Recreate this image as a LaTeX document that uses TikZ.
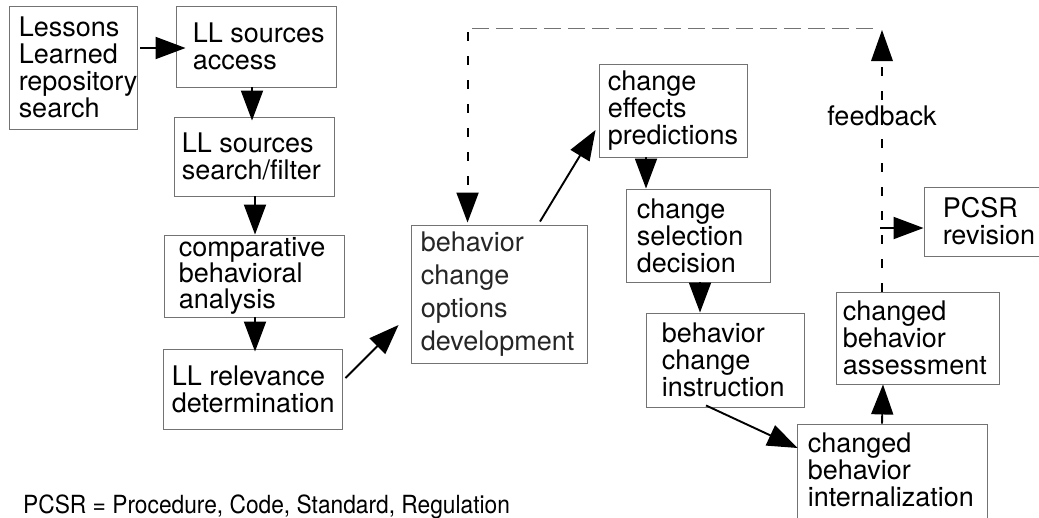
\documentclass[tikz,border=0pt]{standalone}
\usepackage{fontspec}
\usepackage{graphicx}
\setmainfont{TeX Gyre Heros}
\usetikzlibrary{arrows.meta,calc}
\tikzset{
  box/.style={draw=black!55, line width=0.9pt, inner sep=0pt, rectangle},
  txt/.style={anchor=west, inner sep=0pt, align=left, font=\fontsize{27pt}{27pt}\selectfont},
  lighttxt/.style={anchor=west, inner sep=0pt, align=left, text=black!85, font=\fontsize{27pt}{33pt}\selectfont},
  flow/.style={line width=1.9pt, -{Triangle[length=30pt,width=22pt]}},
  fb/.style={line width=1.9pt, dash pattern=on 9pt off 15pt},
  topline/.style={line width=0.9pt, draw=black!55, dash pattern=on 17pt off 7pt},
}
\begin{document}
\begin{tikzpicture}[x=1pt,y=-1pt]
\useasboundingbox (0,0) rectangle (1039,517);
\fill[white] (0,0) rectangle (1039,517);
\clip (0,0) rectangle (1039,517);

% boxes
\node[box, minimum width=128pt, minimum height=123pt] (a1) at (73,67.5) {};
\node[box, minimum width=160pt, minimum height=81pt] (a2) at (256,46.5) {};
\node[box, minimum width=160pt, minimum height=79pt] (a3) at (254,156.5) {};
\node[box, minimum width=180pt, minimum height=82pt] (a4) at (254,276) {};
\node[box, minimum width=179pt, minimum height=80pt] (a5) at (252.5,389) {};
\node[box, minimum width=176pt, minimum height=138pt] (a6) at (499,294) {};
\node[box, minimum width=148pt, minimum height=93pt] (a7) at (673,110.5) {};
\node[box, minimum width=144pt, minimum height=93pt] (a8) at (698,235.5) {};
\node[box, minimum width=158pt, minimum height=94pt] (a9) at (725,360) {};
\node[box, minimum width=190pt, minimum height=96pt] (a10) at (892,472) {};
\node[box, minimum width=163pt, minimum height=92pt] (a11) at (917.5,338) {};
\node[box, minimum width=121pt, minimum height=69pt] (a12) at (984.5,221.5) {};

% texts
\node[txt] (t1) at ($(a1.west)+(10,0)$) {Lessons\\Learned\\repository\\search};
\node[txt] (t2) at ($(a2.west)+(17,0)$) {LL sources\\access};
\node[txt] (t3) at ($(a3.west)+(8,0)$) {LL sources\\search/filter};
\node[txt, font=\fontsize{27pt}{26pt}\selectfont] (t4) at ($(a4.west)+(15,0)$) {comparative\\behavioral\\analysis};
\node[txt] (t5) at ($(a5.west)+(9,0)$) {LL relevance\\determination};
\node[lighttxt] (t6) at ($(a6.west)+(10,0)$) {behavior\\change\\options\\development};
\node[txt] (t7) at ($(a7.west)+(9,0)$) {change\\effects\\predictions};
\node[txt] (t8) at ($(a8.west)+(11,0)$) {change\\selection\\decision};
\node[txt] (t9) at ($(a9.west)+(16,0)$) {behavior\\change\\instruction};
\node[txt] (t10) at ($(a10.west)+(11,-2)$) {changed\\behavior\\internalization};
\node[txt] (t11) at ($(a11.west)+(7,0)$) {changed\\behavior\\assessment};
\node[txt] (t12) at ($(a12.west)+(19,0)$) {PCSR\\revision};

% solid connectors
\draw[flow] ($(a1.east)+(3,-19.5)$) -- ($(a2.west)+(10,1.5)$);
\draw[flow] ($(a2.south)+(-4,0)$) -- ($(a3.north)+(-2,4)$);
\draw[flow] ($(a3.south)+(1,0)$) -- ($(a4.north)+(1,0)$);
\draw[flow] ($(a4.south)+(1,0)$) -- ($(a5.north)+(2.5,3)$);
\draw[flow] ($(a5.east)+(3,-11)$) -- ($(a6.west)+(-12,31)$);
\draw[flow] ($(a6.north)+(41,-3)$) -- ($(a7.west)+(-3,19.5)$);
\draw[flow] ($(a7.south)+(-27,0)$) -- ($(a8.north)+(-52,0)$);
\draw[flow] ($(a8.south)+(2,0)$) -- ($(a9.north)+(-25,0)$);
\draw[flow] ($(a9.south)+(-19,-2)$) -- ($(a10.west)+(1,-24)$);
\draw[flow] ($(a10.north)+(-10,0)$) -- ($(a11.south)+(-34.5,0)$);

% feedback
\coordinate (fbtop) at (882,30);
\coordinate (br) at (880,228);
\draw[fb] ($(a11.north)+(-35.5,0)$) -- ($(fbtop)+(0,28)$);
\fill ($(fbtop)+(0,0)$) -- ($(fbtop)+(-11,31)$) -- ($(fbtop)+(11,31)$) -- cycle;
\node[fill=white, inner sep=2pt, font=\fontsize{27pt}{27pt}\selectfont] (fbl) at (882,115.5) {feedback};
\draw[flow] (br) -- ($(a12.west)+(0,6.5)$);

% loop back
\coordinate (lp) at (873,28);
\coordinate (vt) at ($(a6.north west)+(57,-2)$);
\draw[topline] (lp) -- (lp -| vt);
\draw[fb, -{Triangle[length=30pt,width=22pt]}] ($(lp -| vt)+(0,4)$) -- (vt);

% footnote
\node[anchor=base west, inner sep=0pt] (note) at (23,513) {\scalebox{0.91}[1]{\fontsize{25pt}{25pt}\selectfont PCSR = Procedure, Code, Standard, Regulation}};
\end{tikzpicture}
\end{document}
